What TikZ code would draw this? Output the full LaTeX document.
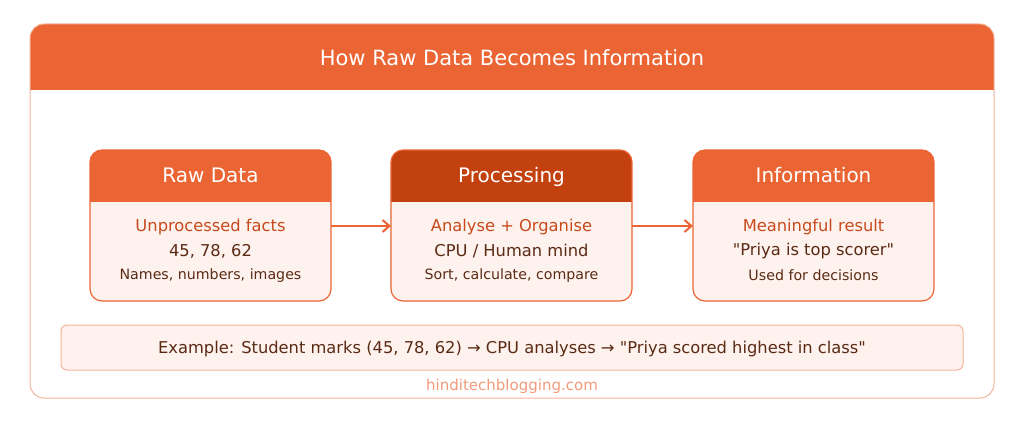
\documentclass[tikz,border=0pt]{standalone}
\usepackage{fontspec}
\setmainfont{DejaVu Sans}[Ligatures=NoCommon,Mapping=]
\usetikzlibrary{arrows.meta}
\definecolor{org}{HTML}{EB6534}
\definecolor{dorg}{HTML}{C2410F}
\definecolor{lbg}{HTML}{FEF2EE}
\definecolor{ltxt}{HTML}{C84A1C}
\definecolor{dtxt}{HTML}{5A2A14}
\definecolor{lbord}{HTML}{F4B49A}
\newcommand{\dq}{\char34\relax}
\begin{document}
\begin{tikzpicture}[x=1pt,y=-1pt,
  hdr/.style={text=white,font=\fontsize{20}{24}\selectfont},
  l1/.style={text=ltxt,font=\fontsize{16.3}{19}\selectfont},
  l2/.style={text=dtxt,font=\fontsize{16.3}{19}\selectfont},
  l3/.style={text=dtxt,font=\fontsize{14.2}{17}\selectfont},
  arr/.style={org,line width=2pt,-{Straight Barb[length=7pt,width=12pt]}}]
\useasboundingbox (0,0) rectangle (1024,422);
\fill[white] (0,0) rectangle (1024,422);
\begin{scope}
\clip[rounded corners=14pt] (30,24) rectangle (994,398);
\fill[org] (30,24) rectangle (994,90);
\end{scope}
\draw[lbord,line width=1pt,rounded corners=14pt] (30,24) rectangle (994,398);
\node[text=white,font=\fontsize{21}{25}\selectfont] (title) at (512,58) {How Raw Data Becomes Information};
\foreach \x/\c/\n/\h/\a/\b/\d in {
 90/org/raw/Raw Data/Unprocessed facts/{45, 78, 62}/{Names, numbers, images},
 391/dorg/proc/Processing/Analyse + Organise/{CPU / Human mind}/{Sort, calculate, compare},
 693/org/info/Information/Meaningful result/{\dq Priya is top scorer\dq}/Used for decisions}{
 \fill[lbg,rounded corners=12pt] (\x,150) rectangle ++(241,151);
 \begin{scope}
 \clip[rounded corners=12pt] (\x,150) rectangle ++(241,151);
 \fill[\c] (\x,150) rectangle ++(241,52);
 \end{scope}
 \draw[org,line width=1.2pt,rounded corners=12pt] (\x,150) rectangle ++(241,151);
 \node[hdr] (\n h) at (\x+120.5,177) {\vphantom{Pg}\h};
 \node[l1] (\n a) at (\x+120.5,227.5) {\a};
 \node[l2] (\n b) at (\x+120.5,251.5) {\b};
 \node[l3] (\n c) at (\x+120.5,275.5) {\d};
}
\coordinate (r1) at (331,226); \coordinate (p0) at (391,226);
\coordinate (p1) at (632,226); \coordinate (i0) at (693,226);
\draw[arr] (r1) -- (p0);
\draw[arr] (p1) -- (i0);
\draw[lbord,fill=lbg,line width=1pt,rounded corners=6pt] (61,325) rectangle (963,370);
\node[text=dtxt,font=\fontsize{16.3}{19}\selectfont] (ex) at (512,349) {Example: Student marks (45, 78, 62) → CPU analyses → \dq Priya scored highest in class\dq};
\node[text=org!65,font=\fontsize{15}{18}\selectfont] (foot) at (512,386) {hinditechblogging.com};
\end{tikzpicture}
\end{document}
